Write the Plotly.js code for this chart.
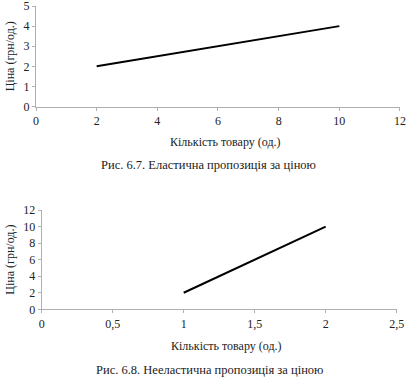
<!DOCTYPE html>
<html>
<head>
<meta charset="utf-8">
<script src="https://cdn.plot.ly/plotly-3.0.1.min.js"></script>
<style>html,body{margin:0;padding:0;background:#fff;}#chart{width:419px;height:385px;}</style>
</head>
<body>
<div id="chart"></div>
<script>
// Chart 6.7 — elastic supply
const elasticQty = [2, 10];
const elasticPrice = [2, 4];
const elasticXTicks = [0, 2, 4, 6, 8, 10, 12];
const elasticYTicks = [0, 1, 2, 3, 4, 5];

// Chart 6.8 — inelastic supply
const inelasticQty = [1, 2];
const inelasticPrice = [2, 10];
const inelasticXTicks = [0, 0.5, 1, 1.5, 2, 2.5];
const inelasticXLabels = ["0", "0,5", "1", "1,5", "2", "2,5"];
const inelasticYTicks = [0, 2, 4, 6, 8, 10, 12];

const xTitle = "Кількість товару (од.)";
const yTitle = "Ціна (грн/од.)";
const caption1 = "Рис. 6.7. Еластична пропозиція за ціною";
const caption2 = "Рис. 6.8. Нееластична пропозиція за ціною";

const FONT = "Liberation Serif";
const TXT = "#222";
const AX = "#b0b0b0";

function axisBase() {
  return {
    showgrid: false, zeroline: false, showline: true, linecolor: AX, linewidth: 1,
    ticks: "outside", ticklen: 3, tickcolor: AX, tickwidth: 1, ticklabeloverflow: "allow",
    tickfont: {family: FONT, size: 12, color: TXT}, fixedrange: true
  };
}

function note(text, xpx, ypx, size) {
  return {text: text, xref: "paper", yref: "paper", x: xpx/419, y: 1 - ypx/385,
          xanchor: "center", yanchor: "middle", showarrow: false,
          font: {family: FONT, size: size, color: TXT}};
}

const traces = [
  {x: elasticQty, y: elasticPrice, xaxis: "x", yaxis: "y", mode: "lines",
   line: {color: "#000", width: 2}, showlegend: false, hoverinfo: "skip"},
  {x: inelasticQty, y: inelasticPrice, xaxis: "x2", yaxis: "y2", mode: "lines",
   line: {color: "#000", width: 2}, showlegend: false, hoverinfo: "skip"}
];

const layout = {
  width: 419, height: 385,
  margin: {l: 0, r: 0, t: 0, b: 0},
  paper_bgcolor: "#fff", plot_bgcolor: "#fff",
  font: {family: FONT, color: TXT},
  xaxis: Object.assign(axisBase(), {
    domain: [36/419, 400/419], range: [0, 12.001], tickvals: elasticXTicks, anchor: "y"
  }),
  yaxis: Object.assign(axisBase(), {
    domain: [1 - 106.5/385, 1 - 6/385], range: [0, 5.001], tickvals: elasticYTicks, anchor: "x",
    title: {text: yTitle, font: {family: FONT, size: 12, color: TXT}, standoff: 6}
  }),
  xaxis2: Object.assign(axisBase(), {
    domain: [41.7/419, 396.7/419], range: [0, 2.5001], tickvals: inelasticXTicks,
    ticktext: inelasticXLabels, anchor: "y2"
  }),
  yaxis2: Object.assign(axisBase(), {
    domain: [1 - 309.3/385, 1 - 210/385], range: [0, 12.001], tickvals: inelasticYTicks, anchor: "x2",
    title: {text: yTitle, font: {family: FONT, size: 12, color: TXT}, standoff: 6}
  }),
  annotations: [
    note(xTitle, 225, 142, 12),
    note(caption1, 208, 165, 12.5),
    note(xTitle, 226, 345.5, 12),
    note(caption2, 209, 370, 12.5)
  ]
};

Plotly.newPlot("chart", traces, layout, {staticPlot: true, displayModeBar: false});
</script>
</body>
</html>
